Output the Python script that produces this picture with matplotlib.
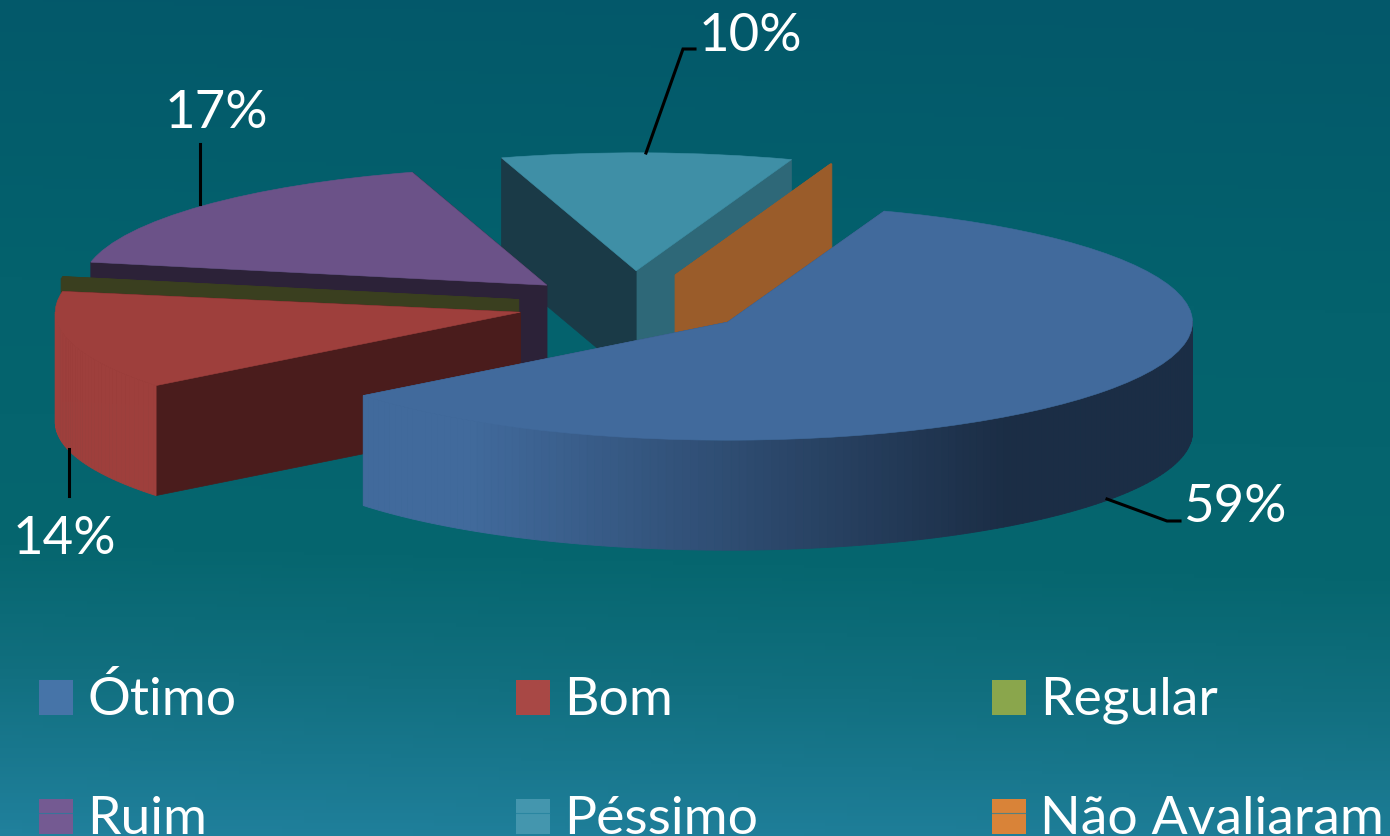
import numpy as np
import matplotlib
matplotlib.use('Agg')
import matplotlib.pyplot as plt
from matplotlib.colors import LinearSegmentedColormap, to_rgb
from matplotlib.patches import Wedge, Rectangle

plt.rcParams['font.family'] = ['Lato', 'DejaVu Sans']

categories = ['Ótimo', 'Bom', 'Regular', 'Ruim', 'Péssimo', 'Não Avaliaram']
shares = [58.85, 13.5, 0.3, 17.2, 10.1, 0.05]
share_labels = ['59%', '14%', None, '17%', '10%', None]

legend_colors = ['#4674a8', '#a84845', '#8aa64c', '#745a92', '#4496ae', '#d98338']
top_colors = ['#416a9c', '#9e3f3c', '#3a3f1f', '#6b5288', '#3f8fa6', '#9a5c2a']
# side faces of each slice: clockwise-end cut, clockwise-start cut
end_faces = ['#33547e', '#4a1c1c', '#3a3f1f', '#2c2238', '#2e6878', '#9a5c2a']
start_faces = ['#33547e', '#4a1c1c', '#3a3f1f', '#2c2238', '#1a3a47', '#9a5c2a']
explodes = [0.25, 0.25, 0.25, 0.25, 0.29, 0.27]
draw_order = [4, 5, 3, 2, 1, 0]

W, H = 1390, 837
CX, CY, RX, RY = 633, 306, 465, 118  # pie centre and radii, pixels
START = 70.3
DEPTH = 110 / RY

fig = plt.figure(figsize=(W / 100, H / 100), dpi=100)
ax = fig.add_axes([0, 0, 1, 1])

bg = LinearSegmentedColormap.from_list('bg', [
  (0.0, '#03586a'), (0.36, '#04626d'), (0.67, '#06666f'),
  (0.81, '#116f7f'), (1.0, '#20809c')])
gy, gx = np.mgrid[0:1:256j, 0:1:64j]
grad = np.clip(gy * 0.96 + (1 - gx) * 0.04, 0, 1)
ax.imshow(grad, cmap=bg, vmin=0, vmax=1, extent=(0, 1, 0, 1), transform=ax.transAxes,
          aspect='auto', zorder=0)

# data units: one pie radius in each direction
ax.set_xlim(-CX / RX, (W - CX) / RX)
ax.set_ylim((CY - H) / RY, CY / RY)
ax.set_axis_off()

def wall_color(x, base):
  # outer wall darkens towards the right of the pie
  t = np.clip((x + 0.35) / 1.15, 0, 1)
  dark = np.array(to_rgb('#1b2d45'))
  return tuple(np.array(to_rgb(base)) * (1 - t) + dark * t)

def draw_slice(i, t1, t2):
  mid = np.radians((t1 + t2) / 2)
  ox, oy = explodes[i] * np.cos(mid), explodes[i] * np.sin(mid)

  for ang, col in ((t1, end_faces[i]), (t2, start_faces[i])):
    a = np.radians(ang)
    ex, ey = ox + np.cos(a), oy + np.sin(a)
    ax.fill([ox, ex, ex, ox], [oy, ey, ey - DEPTH, oy - DEPTH],
            color=col, lw=0.5, zorder=2)

  # outer wall, only the part that faces the viewer
  angs = np.arange(t1, t2 + 1.0, 1.0)
  angs = np.append(angs[angs < t2], t2)
  for a0, a1 in zip(angs[:-1], angs[1:]):
    if np.sin(np.radians((a0 + a1) / 2)) >= 0:
      continue
    r0, r1 = np.radians(a0), np.radians(a1)
    x0, x1 = ox + np.cos(r0), ox + np.cos(r1)
    y0, y1 = oy + np.sin(r0), oy + np.sin(r1)
    col = wall_color((x0 + x1) / 2, top_colors[i]) if i == 0 else top_colors[i]
    ax.fill([x0, x1, x1, x0], [y0, y1, y1 - DEPTH, y0 - DEPTH], color=col, lw=0.6, zorder=2)

  ax.add_patch(Wedge((ox, oy), 1, t1, t2, facecolor=top_colors[i], edgecolor=top_colors[i],
                     lw=0.4, zorder=2))

edges = START - np.cumsum([0] + shares) * 3.6
for i in draw_order:
  # each slice is wound counter-clockwise, sits on its own layer through call order
  draw_slice(i, edges[i + 1], edges[i])

# overlay in picture pixels for labels and legend
ov = fig.add_axes([0, 0, 1, 1])
ov.set_xlim(0, W)
ov.set_ylim(H, 0)
ov.set_axis_off()
ov.patch.set_alpha(0)

leaders = {
  '10%': ([646, 683, 695], [154, 50, 50], 750, 36),
  '17%': ([200, 200], [205, 145], 216, 113),
  '14%': ([69, 69], [450, 497], 64, 540),
  '59%': ([1107, 1167, 1180], [500, 522, 522], 1235, 508),
}
for lab in share_labels:
  if lab is None:
    continue
  xs, ys, tx, ty = leaders[lab]
  ov.plot(xs, ys, color='black', lw=2.2, solid_joinstyle='miter')
  ov.text(tx, ty, lab, color='white', fontsize=38, ha='center', va='center')

legend_x = [39, 516, 992]
legend_y = [681, 800]
for i, name in enumerate(categories):
  x = legend_x[i % 3]
  y = legend_y[i // 3]
  ov.add_patch(Rectangle((x, y), 34, 35, facecolor=legend_colors[i], edgecolor='none'))
  if i >= 3:
    ov.plot([x, x + 34], [y + 14, y + 14], color='#20809c', lw=0.8, alpha=0.7)
  ov.text(x + 48, y + 34, name, color='white', fontsize=38.5, ha='left', va='baseline')

fig.savefig('out.png', dpi=100)
